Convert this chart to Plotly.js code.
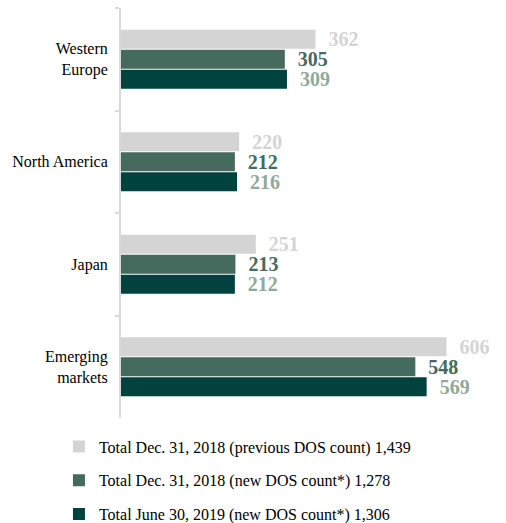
<!DOCTYPE html>
<html>
<head>
<meta charset="utf-8">
<script src="https://cdn.plot.ly/plotly-3.0.1.min.js"></script>
<style>html,body{margin:0;padding:0;background:#fff;}</style>
</head>
<body>
<div id="chart" style="width:506px;height:523px;"></div>
<script>
const categories = ["Western<br>Europe", "North America", "Japan", "Emerging<br>markets"];
const seriesNames = [
  "Total Dec. 31, 2018 (previous DOS count) 1,439",
  "Total Dec. 31, 2018 (new DOS count*) 1,278",
  "Total June 30, 2019 (new DOS count*) 1,306"
];
const prevDec2018 = [362, 220, 251, 606];
const newDec2018 = [305, 212, 213, 548];
const june2019 = [309, 216, 212, 569];

const barColors = ["#d4d4d4", "#456b5f", "#00423d"];
const labelColors = ["#d4d4d4", "#456b5f", "#8fa99c"];
const values = [prevDec2018, newDec2018, june2019];

const FONT = "Liberation Serif, Times New Roman, serif";

const traces = values.map((v, i) => ({
  type: "bar",
  orientation: "h",
  y: categories,
  x: v,
  name: seriesNames[i],
  legendgroup: "g" + i,
  marker: {color: barColors[i], line: {width: 0}},
  text: v.map(n => "\u00a0\u00a0" + n),
  texttemplate: "%{text}",
  textposition: "outside",
  constraintext: "none",
  cliponaxis: false,
  textfont: {family: FONT, size: 20, color: labelColors[i], weight: "bold"},
  hoverinfo: "skip"
}));

const layout = {
  width: 506,
  height: 523,
  margin: {l: 121, r: 9, t: 8, b: 105, autoexpand: false},
  paper_bgcolor: "#fff",
  plot_bgcolor: "#fff",
  font: {family: FONT, size: 16, color: "#000"},
  barmode: "group",
  bargap: 0.415,
  bargroupgap: 0.04,
  showlegend: true,
  legend: {
    orientation: "v",
    traceorder: "grouped",
    tracegroupgap: 10,
    x: -0.165,
    xanchor: "left",
    y: -0.028,
    yanchor: "top",
    font: {family: FONT, size: 16, color: "#000"},
    bgcolor: "rgba(0,0,0,0)"
  },
  xaxis: {
    range: [0, 700],
    visible: false,
    showgrid: false,
    zeroline: false,
    fixedrange: true
  },
  yaxis: {
    type: "category",
    autorange: "reversed",
    showline: true,
    linecolor: "#d9d9d9",
    linewidth: 2,
    ticks: "outside",
    tickson: "boundaries",
    ticklen: 4,
    tickwidth: 2,
    tickcolor: "#d9d9d9",
    ticklabelstandoff: 8,
    showgrid: false,
    zeroline: false,
    tickfont: {family: FONT, size: 16, color: "#000"}
  }
};

Plotly.newPlot("chart", traces, layout, {displayModeBar: false, staticPlot: true});
</script>
</body>
</html>
